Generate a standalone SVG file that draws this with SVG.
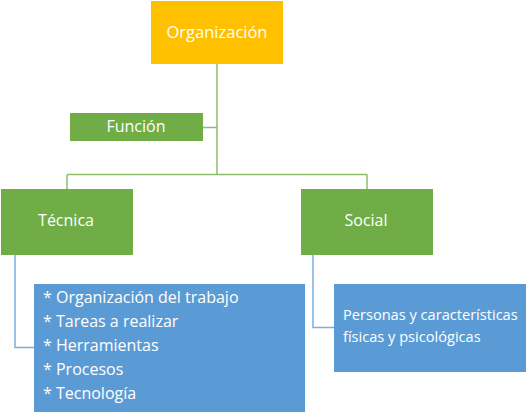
<svg xmlns="http://www.w3.org/2000/svg" width="530" height="414" viewBox="0 0 530 414">
<style>
.t{font-family:"Open Sans","Noto Sans","DejaVu Sans",sans-serif;fill:#ffffff;font-size:16px}
.c{text-anchor:middle;dominant-baseline:central}
.s{font-size:14.6px}
.o{font-size:16.5px}
.g{fill:#70AD47}
.b{fill:#5B9BD5}
.lg{stroke:#8DBF6B;stroke-width:1.5;fill:none}
.lb{stroke:#7BAEDD;stroke-width:1.5;fill:none}
</style>
<rect width="530" height="414" fill="#ffffff"/>
<g id="connectors">
<path class="lg" d="M217 64 V174.5 M203 127.5 H217 M67 174.5 H367 M67 174.5 V189 M367 174.5 V189"/>
<path class="lb" d="M15 255 V347.5 H34 M313 255 V327.5 H334"/>
</g>
<g id="organizacion"><rect x="151" y="1" width="132" height="63" fill="#FFC000"/><text class="t c o" x="217" y="31">Organización</text></g>
<g id="funcion"><rect class="g" x="70" y="113" width="133" height="28"/><text class="t c" x="136" y="126">Función</text></g>
<g id="tecnica"><rect class="g" x="1" y="189" width="132" height="66"/><text class="t c" x="66" y="220">Técnica</text></g>
<g id="social"><rect class="g" x="301" y="189" width="132" height="66"/><text class="t c" x="366" y="220">Social</text></g>
<g id="tecnica-detalle"><rect class="b" x="34" y="284" width="271" height="128"/>
<text class="t" x="43" y="303">* Organización del trabajo</text>
<text class="t" x="43" y="327">* Tareas a realizar</text>
<text class="t" x="43" y="351">* Herramientas</text>
<text class="t" x="43" y="375">* Procesos</text>
<text class="t" x="43" y="399">* Tecnología</text>
</g>
<g id="social-detalle"><rect class="b" x="334" y="284" width="192" height="88"/>
<text class="t s" x="343" y="320">Personas y características</text>
<text class="t s" x="343" y="342">físicas y psicológicas</text>
</g>
</svg>
